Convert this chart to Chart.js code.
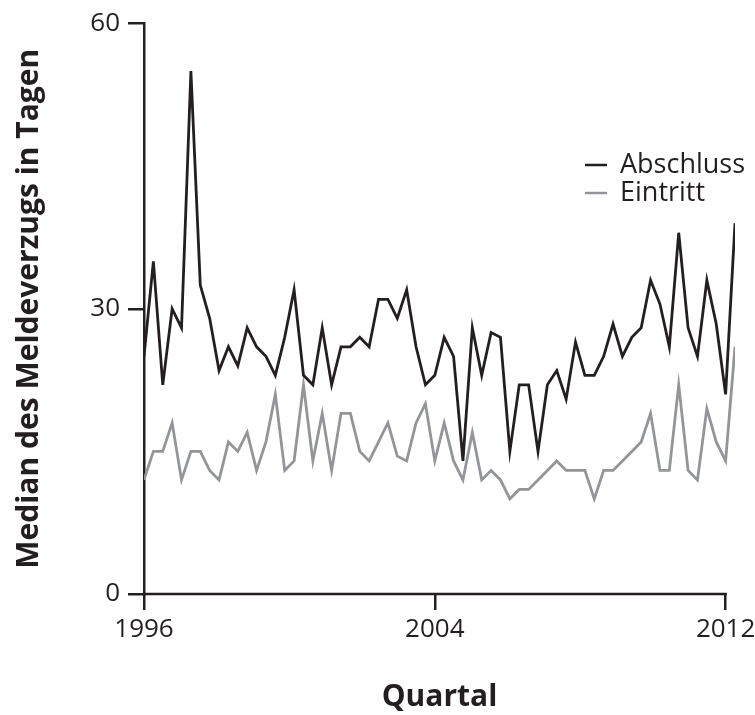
<!DOCTYPE html>
<html>
<head>
<meta charset="utf-8">
<script src="https://cdn.jsdelivr.net/npm/chart.js@4/dist/chart.umd.min.js"></script>
<style>
  html, body { margin: 0; padding: 0; background: #fff; }
</style>
</head>
<body>
<canvas id="chart" width="755" height="715"></canvas>
<script>
// Quartalswerte ab 1996, Median in Tagen
const abschluss = [
  25, 35, 22, 30, 28, 55, 32.5, 29, 23.5, 26,
  24, 28, 26, 25, 23, 27, 32, 23, 22, 28,
  22, 26, 26, 27, 26, 31, 31, 29, 32, 26,
  22, 23, 27, 25, 14, 28, 23, 27.5, 27, 15,
  22, 22, 15, 22, 23.5, 20.5, 26.5, 23, 23, 25,
  28.4, 25, 27, 28, 33, 30.5, 26, 38, 28, 25,
  33, 28.4, 21, 39
];
const eintritt = [
  12, 15, 15, 18, 12, 15, 15, 13, 12, 16,
  15, 17, 13, 16, 21, 13, 14, 22, 14, 19,
  13, 19, 19, 15, 14, 16, 18, 14.5, 14, 18,
  20, 14, 18, 14, 12, 17, 12, 13, 12, 10,
  11, 11, 12, 13, 14, 13, 13, 13, 10, 13,
  13, 14, 15, 16, 19, 13, 13, 22, 13, 12,
  19.5, 16, 14, 26
];
const xTickPos = [0, 31, 62];
const xTickLabels = ["1996", "2004", "2012"];
const yTickValues = [0, 30, 60];

const ink = "#231f20";
const grey = "#939598";
const font = "'Open Sans', 'DejaVu Sans', sans-serif";

const toPoints = arr => arr.map((v, i) => ({ x: i, y: v }));

// x-Achsenlinie endet beim letzten Tick (2012), die Daten laufen etwas weiter
const xAxisLine = {
  id: "xAxisLine",
  afterDraw(chart) {
    const { ctx, scales: { x } } = chart;
    ctx.save();
    ctx.strokeStyle = ink;
    ctx.lineWidth = 2.5;
    ctx.beginPath();
    ctx.moveTo(x.getPixelForValue(xTickPos[0]) - 1.25, x.top);
    ctx.lineTo(x.getPixelForValue(xTickPos[xTickPos.length - 1]) + 1.25, x.top);
    ctx.stroke();
    ctx.restore();
  }
};

// Legende rechts oben, selbst gezeichnet
const sideLegend = {
  id: "sideLegend",
  afterDraw(chart, args, opts) {
    const { ctx } = chart;
    ctx.save();
    ctx.font = `27px ${font}`;
    ctx.textBaseline = "middle";
    chart.data.datasets.forEach((ds, i) => {
      const y = opts.top + i * opts.gap;
      ctx.strokeStyle = ds.borderColor;
      ctx.lineWidth = 2.5;
      ctx.beginPath();
      ctx.moveTo(opts.left, y);
      ctx.lineTo(opts.left + 22, y);
      ctx.stroke();
      ctx.fillStyle = ink;
      ctx.fillText(ds.label, opts.left + 35, y);
    });
    ctx.restore();
  }
};

new Chart(document.getElementById("chart"), {
  type: "line",
  data: {
    datasets: [
      { label: "Abschluss", data: toPoints(abschluss), borderColor: ink, borderWidth: 2.8, pointRadius: 0 },
      { label: "Eintritt", data: toPoints(eintritt), borderColor: grey, borderWidth: 2.8, pointRadius: 0 },
    ],
  },
  options: {
    responsive: false,
    animation: false,
    layout: { padding: { top: 17, right: 20, left: 0, bottom: 0 } },
    plugins: {
      legend: { display: false },
      tooltip: { enabled: false },
      sideLegend: { left: 585, top: 165, gap: 28 },
    },
    scales: {
      x: {
        type: "linear",
        min: 0,
        max: 63,
        afterBuildTicks: s => { s.ticks = xTickPos.map(v => ({ value: v })); },
        afterFit: s => { s.height = 121; s.paddingLeft = 0; s.paddingRight = 0; },
        ticks: {
          color: ink,
          font: { family: font, size: 26 },
          padding: 4,
          maxRotation: 0,
          callback: v => xTickLabels[xTickPos.indexOf(v)],
        },
        grid: { drawOnChartArea: false, drawTicks: true, tickLength: 16, color: ink, lineWidth: 2.5 },
        border: { display: false },
        title: {
          display: true,
          text: "Quartal",
          color: ink,
          font: { family: font, size: 30, weight: "bold" },
          padding: { top: 0, bottom: 0 },
        },
      },
      y: {
        min: 0,
        max: 60,
        afterBuildTicks: s => { s.ticks = yTickValues.map(v => ({ value: v })); },
        afterFit: s => { s.width = 144; },
        ticks: {
          color: ink,
          font: { family: font, size: 26 },
          padding: 8,
        },
        grid: { drawOnChartArea: false, drawTicks: true, tickLength: 16, color: ink, lineWidth: 2.5 },
        border: { display: true, color: ink, width: 2.5 },
        title: {
          display: true,
          text: "Median des Meldeverzugs in Tagen",
          color: ink,
          font: { family: font, size: 30, weight: "bold" },
          padding: { top: 11, bottom: 0 },
        },
      },
    },
  },
  plugins: [xAxisLine, sideLegend],
});
</script>
</body>
</html>
